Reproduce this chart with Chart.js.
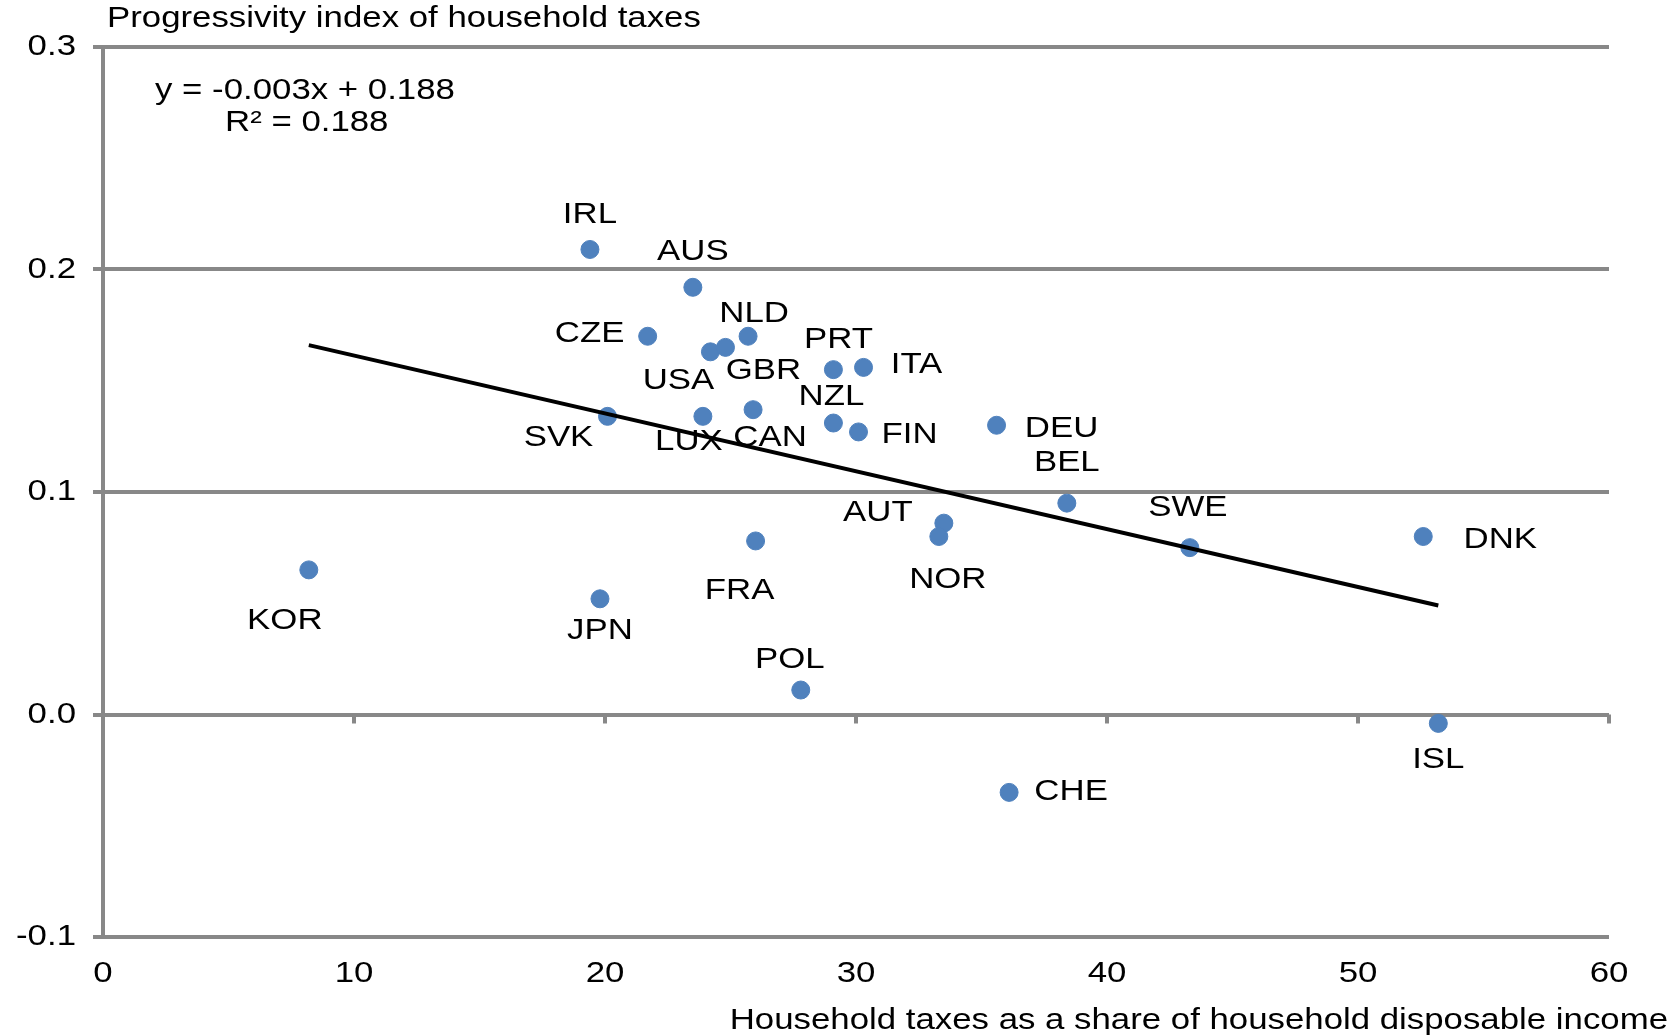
<!DOCTYPE html>
<html><head><meta charset="utf-8">
<script src="https://cdn.jsdelivr.net/npm/chart.js@4/dist/chart.umd.min.js"></script>
<style>body{margin:0;background:#fff}#wrap{width:1673px;height:1035px}</style>
</head><body><div id="wrap"><canvas id="c" width="1673" height="1035"></canvas></div>
<script>
const countries = ['IRL','AUS','CZE','USA','GBR','NLD','PRT','ITA','SVK','LUX','CAN','NZL','FIN','DEU','BEL','AUT','NOR','FRA','SWE','DNK','KOR','JPN','POL','ISL','CHE'];
const taxShare = [19.4,23.5,21.7,24.2,24.8,25.7,29.1,30.3,20.1,23.9,25.9,29.1,30.1,35.6,38.4,33.5,33.3,26.0,43.3,52.6,8.2,19.8,27.8,53.2,36.1];
const progressivity = [0.209,0.192,0.170,0.163,0.165,0.170,0.155,0.156,0.134,0.134,0.137,0.131,0.127,0.130,0.095,0.086,0.080,0.078,0.075,0.080,0.065,0.052,0.011,-0.004,-0.035];
const trendX = [8.2, 53.2];
const trendY = [0.166, 0.049];
const yTicks = [0.3, 0.2, 0.1, 0.0, -0.1];

// label offsets from point, in px
const labelOffset = {
  IRL:[0,-34], AUS:[0,-35], CZE:[-58,-2], USA:[-32,29], GBR:[38,24], NLD:[6,-22],
  PRT:[5,-30], ITA:[53,-2], SVK:[-49,22], LUX:[-14,26], CAN:[17,28], NZL:[-2,-26],
  FIN:[51,3], DEU:[65,4], BEL:[0,-40], AUT:[-66,-10], NOR:[9,43], FRA:[-16,50],
  SWE:[-2,-40], DNK:[77,3], KOR:[-24,51], JPN:[0,32], POL:[-11,-30], ISL:[0,37], CHE:[62,0]
};
const font = '"Liberation Sans", Arial, sans-serif';
const SX = 1.2;

// text stretched horizontally like the original
function wideText(ctx, s, x, y, align) {
  const w = ctx.measureText(s).width * SX;
  let left = align === 'center' ? x - w / 2 : align === 'right' ? x - w : x;
  ctx.save();
  ctx.textAlign = 'left';
  ctx.translate(left, y); ctx.scale(SX, 1);
  ctx.fillText(s, 0, 0);
  ctx.restore();
}

const overlay = {
  id: 'overlay',
  afterDatasetsDraw(chart) {
    const {ctx, scales: {x, y}} = chart;
    ctx.save();
    ctx.fillStyle = '#000';
    ctx.font = '29px ' + font;
    ctx.textBaseline = 'middle';
    const meta = chart.getDatasetMeta(1);
    meta.data.forEach((p, i) => {
      const o = labelOffset[countries[i]] || [0, -30];
      wideText(ctx, countries[i], p.x + o[0], p.y + o[1], 'center');
    });
    // tick marks on the zero line
    ctx.strokeStyle = '#888'; ctx.lineWidth = 4;
    const y0 = y.getPixelForValue(0);
    for (let v = 10; v <= 60; v += 10) {
      const px = x.getPixelForValue(v);
      ctx.beginPath(); ctx.moveTo(px, y0); ctx.lineTo(px, y0 + 9); ctx.stroke();
    }
    // axis tick labels
    for (let v = 0; v <= 60; v += 10) wideText(ctx, String(v), x.getPixelForValue(v), 974, 'center');
    yTicks.forEach(v => wideText(ctx, v.toFixed(1), 76, y.getPixelForValue(v), 'right'));
    wideText(ctx, 'Progressivity index of household taxes', 107, 19, 'left');
    wideText(ctx, 'y = -0.003x + 0.188', 155, 91, 'left');
    wideText(ctx, 'R² = 0.188', 225, 123, 'left');
    wideText(ctx, 'Household taxes as a share of household disposable income', 1668, 1021, 'right');
    ctx.restore();
  }
};

new Chart(document.getElementById('c'), {
  type: 'scatter',
  data: {
    datasets: [{
      type: 'line',
      data: trendX.map((v, i) => ({x: v, y: trendY[i]})),
      borderColor: '#000', borderWidth: 4, pointRadius: 0, fill: false
    }, {
      data: taxShare.map((v, i) => ({x: v, y: progressivity[i]})),
      backgroundColor: '#4F81BD', borderColor: '#4F81BD', pointRadius: 9
    }]
  },
  options: {
    responsive: false, animation: false,
    layout: {padding: {top: 47, right: 64}},
    plugins: {legend: {display: false}, tooltip: {enabled: false}},
    scales: {
      x: {
        type: 'linear', min: 0, max: 60,
        afterFit: s => { s.height = 98; },
        grid: {display: false, drawTicks: false},
        border: {display: false},
        ticks: {stepSize: 10, color: 'rgba(0,0,0,0)', font: {family: font, size: 28}}
      },
      y: {
        min: -0.1, max: 0.3,
        afterFit: s => { s.width = 103; },
        afterBuildTicks: s => { s.ticks = yTicks.map(v => ({value: v})); },
        grid: {color: '#888', lineWidth: 4, drawTicks: true, tickLength: 10},
        border: {color: '#888', width: 4},
        ticks: {color: 'rgba(0,0,0,0)', font: {family: font, size: 28}}
      }
    }
  },
  plugins: [overlay]
});
</script></body></html>
